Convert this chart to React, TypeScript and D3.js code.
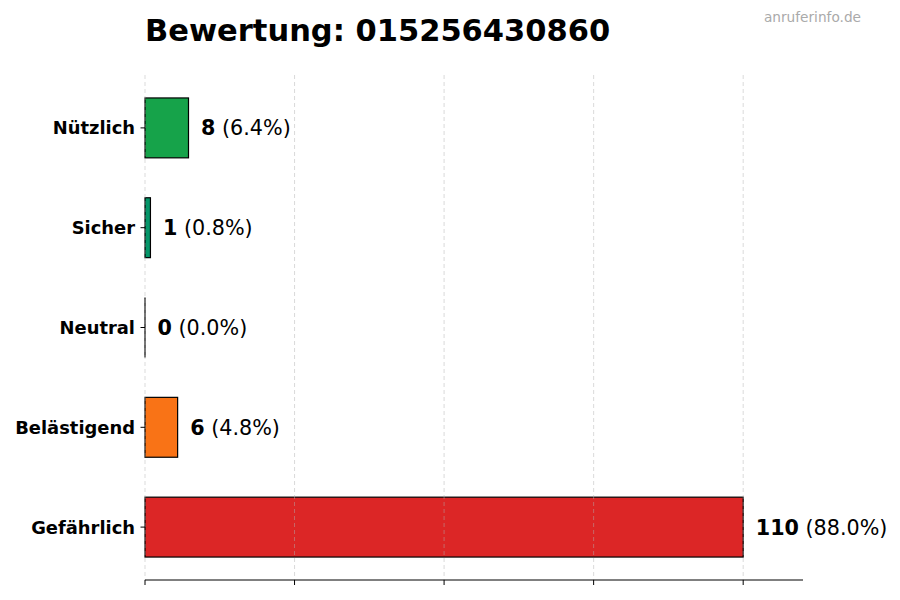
import React from 'react';
import * as d3 from 'd3';

const categories = ['Nützlich', 'Sicher', 'Neutral', 'Belästigend', 'Gefährlich'];
const counts = [8, 1, 0, 6, 110];
const barColors = ['#16a34a', '#059669', '#6b7280', '#f97316', '#dc2626'];
const xTicks = [0, 27.5, 55, 82.5, 110];

const W = 900;
const H = 600;
const FONT = '"DejaVu Sans", sans-serif';

export default function App() {
  const total = d3.sum(counts);
  const maxVal = d3.max(counts) as number;

  const x = d3.scaleLinear().domain([0, maxVal * 1.1]).range([145, 803]);
  const y = d3.scaleLinear().domain([-0.53, categories.length - 1 + 0.53]).range([75, 580]);
  const barH = y(0.6) - y(0);
  const pad = x(maxVal * 0.021) - x(0);

  return (
    <svg width={W} height={H} style={{ display: 'block', position: 'absolute', left: 0, top: 0 }} fontFamily={FONT}>
      <rect width={W} height={H} fill="#fff" />
      <text x={145} y={41} fontSize={30.5} fontWeight="bold" fill="#000">
        Bewertung: 015256430860
      </text>
      <text x={861} y={22} fontSize={13.7} fill="#aaaaaa" textAnchor="end">
        anruferinfo.de
      </text>

      {/* bars */}
      <g className="bars">
        {categories.map((c, i) =>
          counts[i] > 0 ? (
            <rect
              key={c}
              x={x(0)}
              y={y(i) - barH / 2}
              width={x(counts[i]) - x(0)}
              height={barH}
              fill={barColors[i]}
              stroke="#000"
              strokeWidth={1.2}
            />
          ) : (
            <line key={c} x1={x(0)} x2={x(0)} y1={y(i) - barH / 2} y2={y(i) + barH / 2} stroke="#000" strokeWidth={1.2} />
          )
        )}
      </g>

      {/* grid on top */}
      <g className="grid">
        {xTicks.map(t => (
          <line key={t} x1={x(t)} x2={x(t)} y1={75} y2={580} stroke="#b0b0b0" strokeOpacity={0.6} strokeDasharray="4,3" strokeWidth={0.8} />
        ))}
      </g>

      {/* x axis */}
      <g className="x-axis">
        <line x1={x(0)} x2={803} y1={580} y2={580} stroke="#000" strokeWidth={1} />
        {xTicks.map(t => (
          <line key={t} x1={x(t)} x2={x(t)} y1={580} y2={585} stroke="#000" strokeWidth={1} />
        ))}
      </g>

      {/* y axis labels */}
      <g className="y-axis">
        {categories.map((c, i) => (
          <g key={c}>
            <line x1={x(0) - 4.5} x2={x(0)} y1={y(i)} y2={y(i)} stroke="#000" strokeWidth={1} />
            <text x={135} y={y(i)} dy="0.36em" textAnchor="end" fontSize={17.9} fontWeight="bold" fill="#000">
              {c}
            </text>
          </g>
        ))}
      </g>

      {/* value labels */}
      <g className="values">
        {categories.map((c, i) => (
          <text key={c} x={x(counts[i]) + pad} y={y(i)} dy="0.36em" fontSize={20.7} fill="#000">
            <tspan fontWeight="bold">{counts[i]}</tspan>
            <tspan>{` (${((counts[i] / total) * 100).toFixed(1)}%)`}</tspan>
          </text>
        ))}
      </g>
    </svg>
  );
}
